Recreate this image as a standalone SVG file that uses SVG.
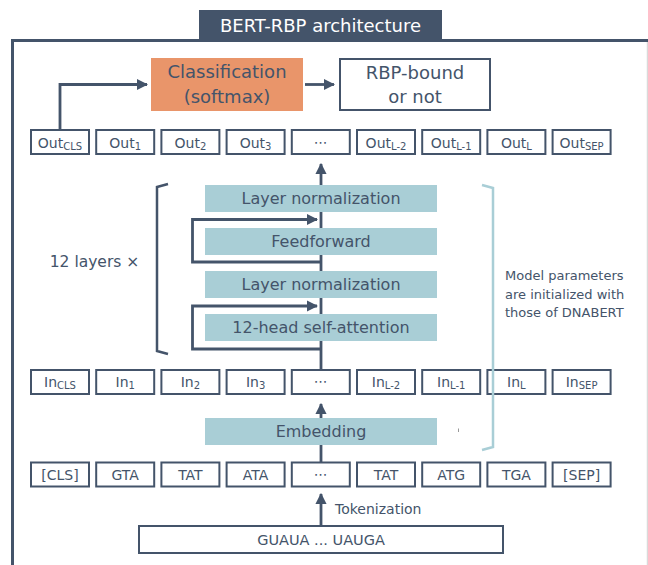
<svg xmlns="http://www.w3.org/2000/svg" width="648" height="565" viewBox="0 0 648 565">
<defs>
<style>
text{font-family:"DejaVu Sans","Liberation Sans",sans-serif;fill:#44546A}
.box{fill:#fff;stroke:#44546A;stroke-width:2}
.tl{fill:#A9CED6}
.bt{font-size:14px;text-anchor:middle}
.sub{font-size:10px}
.lt{font-size:16px;text-anchor:middle}
.ln{fill:none;stroke:#44546A;stroke-width:2.8}
.ah{fill:#44546A}
</style>
<marker id="arr" viewBox="0 0 10 10" refX="9" refY="5" markerWidth="4" markerHeight="4.4" orient="auto" markerUnits="strokeWidth">
<path d="M0,0 L10,5 L0,10 Z" class="ah"/>
</marker>
</defs>
<rect width="648" height="565" fill="#fff"/>
<g id="frame">
<path d="M12.5,570 V40.5 H648" fill="none" stroke="#44546A" stroke-width="3"/>
<line x1="647.5" y1="42" x2="647.5" y2="565" stroke="#DADADA" stroke-width="1.5"/>
</g>
<g id="title">
<rect x="199" y="10" width="243" height="30" fill="#44546A"/>
<text x="320.5" y="31.5" style="font-size:18px;text-anchor:middle;fill:#fff">BERT-RBP architecture</text>
</g>
<g id="connectors">
<line x1="321" y1="370" x2="321" y2="164" class="ln" marker-end="url(#arr)"/>
<path d="M321,262 H192.5 V219.5 H317" class="ln" stroke-width="2.5" marker-end="url(#arr)"/>
<path d="M321,349 H192.5 V306 H317" class="ln" stroke-width="2.5" marker-end="url(#arr)"/>
<line x1="321" y1="418" x2="321" y2="404" class="ln" marker-end="url(#arr)"/>
<line x1="321" y1="462" x2="321" y2="445" class="ln"/>
<line x1="321" y1="526" x2="321" y2="494" class="ln" marker-end="url(#arr)"/>
<path d="M60,130 V84.5 H147" class="ln" marker-end="url(#arr)"/>
<line x1="305" y1="84.5" x2="334" y2="84.5" class="ln" marker-end="url(#arr)"/>
</g>
<g id="classification">
<rect x="151" y="58" width="152" height="53" fill="#E9956A"/>
<text x="227" y="78" style="font-size:18px;text-anchor:middle">Classification</text>
<text x="227" y="103" style="font-size:18px;text-anchor:middle">(softmax)</text>
</g>
<g id="rbp-bound">
<rect x="340" y="59" width="150" height="51" class="box"/>
<text x="415" y="78.5" style="font-size:18px;text-anchor:middle">RBP-bound</text>
<text x="415" y="103" style="font-size:18px;text-anchor:middle">or not</text>
</g>
<g id="out-row">
<rect x="31" y="130" width="58" height="24" class="box"/><text x="60" y="147.5" class="bt">Out<tspan class="sub" dy="2.5">CLS</tspan></text>
<rect x="96.2" y="130" width="58" height="24" class="box"/><text x="125.2" y="147.5" class="bt">Out<tspan class="sub" dy="2.5">1</tspan></text>
<rect x="161.4" y="130" width="58" height="24" class="box"/><text x="190.4" y="147.5" class="bt">Out<tspan class="sub" dy="2.5">2</tspan></text>
<rect x="226.6" y="130" width="58" height="24" class="box"/><text x="255.6" y="147.5" class="bt">Out<tspan class="sub" dy="2.5">3</tspan></text>
<rect x="291.8" y="130" width="58" height="24" class="box"/><text x="320.8" y="147" class="bt">⋯</text>
<rect x="357" y="130" width="58" height="24" class="box"/><text x="386" y="147.5" class="bt">Out<tspan class="sub" dy="2.5">L-2</tspan></text>
<rect x="422.2" y="130" width="58" height="24" class="box"/><text x="451.2" y="147.5" class="bt">Out<tspan class="sub" dy="2.5">L-1</tspan></text>
<rect x="487.4" y="130" width="58" height="24" class="box"/><text x="516.4" y="147.5" class="bt">Out<tspan class="sub" dy="2.5">L</tspan></text>
<rect x="552.6" y="130" width="58" height="24" class="box"/><text x="581.6" y="147.5" class="bt">Out<tspan class="sub" dy="2.5">SEP</tspan></text>
</g>
<g id="layernorm-top">
<rect x="205" y="185" width="232" height="27" class="tl"/>
<text x="321" y="204" class="lt">Layer normalization</text>
</g>
<g id="feedforward">
<rect x="205" y="228" width="232" height="27" class="tl"/>
<text x="321" y="247" class="lt">Feedforward</text>
</g>
<g id="layernorm-bottom">
<rect x="205" y="271" width="232" height="27" class="tl"/>
<text x="321" y="290" class="lt">Layer normalization</text>
</g>
<g id="self-attention">
<rect x="205" y="314" width="232" height="27" class="tl"/>
<text x="321" y="333" class="lt">12-head self-attention</text>
</g>
<g id="layers-bracket">
<path d="M168,184 L157,187 V351 L168,354" fill="none" stroke="#44546A" stroke-width="2.5"/>
<text x="94.5" y="266.5" style="font-size:15.5px;text-anchor:middle">12 layers ×</text>
</g>
<g id="in-row">
<rect x="31" y="370" width="58" height="24" class="box"/><text x="60" y="386.5" class="bt">In<tspan class="sub" dy="2.5">CLS</tspan></text>
<rect x="96.2" y="370" width="58" height="24" class="box"/><text x="125.2" y="386.5" class="bt">In<tspan class="sub" dy="2.5">1</tspan></text>
<rect x="161.4" y="370" width="58" height="24" class="box"/><text x="190.4" y="386.5" class="bt">In<tspan class="sub" dy="2.5">2</tspan></text>
<rect x="226.6" y="370" width="58" height="24" class="box"/><text x="255.6" y="386.5" class="bt">In<tspan class="sub" dy="2.5">3</tspan></text>
<rect x="291.8" y="370" width="58" height="24" class="box"/><text x="320.8" y="386" class="bt">⋯</text>
<rect x="357" y="370" width="58" height="24" class="box"/><text x="386" y="386.5" class="bt">In<tspan class="sub" dy="2.5">L-2</tspan></text>
<rect x="422.2" y="370" width="58" height="24" class="box"/><text x="451.2" y="386.5" class="bt">In<tspan class="sub" dy="2.5">L-1</tspan></text>
<rect x="487.4" y="370" width="58" height="24" class="box"/><text x="516.4" y="386.5" class="bt">In<tspan class="sub" dy="2.5">L</tspan></text>
<rect x="552.6" y="370" width="58" height="24" class="box"/><text x="581.6" y="386.5" class="bt">In<tspan class="sub" dy="2.5">SEP</tspan></text>
</g>
<g id="dnabert-bracket">
<path d="M482,185 L493,188 V447 L482,450" fill="none" stroke="#A9CED6" stroke-width="2.5"/>
<text style="font-size:13px">
<tspan x="505" y="280">Model parameters</tspan>
<tspan x="505" y="298.5">are initialized with</tspan>
<tspan x="505" y="317">those of DNABERT</tspan>
</text>
</g>
<g id="embedding">
<rect x="205" y="418" width="232" height="27" class="tl"/>
<text x="321" y="437" class="lt">Embedding</text>
<line x1="458.5" y1="428.5" x2="458.5" y2="432" stroke="#999" stroke-width="1"/>
</g>
<g id="token-row">
<rect x="31" y="462.5" width="58" height="24" class="box"/><text x="60" y="479.5" class="bt">[CLS]</text>
<rect x="96.2" y="462.5" width="58" height="24" class="box"/><text x="125.2" y="479.5" class="bt">GTA</text>
<rect x="161.4" y="462.5" width="58" height="24" class="box"/><text x="190.4" y="479.5" class="bt">TAT</text>
<rect x="226.6" y="462.5" width="58" height="24" class="box"/><text x="255.6" y="479.5" class="bt">ATA</text>
<rect x="291.8" y="462.5" width="58" height="24" class="box"/><text x="320.8" y="479" class="bt">⋯</text>
<rect x="357" y="462.5" width="58" height="24" class="box"/><text x="386" y="479.5" class="bt">TAT</text>
<rect x="422.2" y="462.5" width="58" height="24" class="box"/><text x="451.2" y="479.5" class="bt">ATG</text>
<rect x="487.4" y="462.5" width="58" height="24" class="box"/><text x="516.4" y="479.5" class="bt">TGA</text>
<rect x="552.6" y="462.5" width="58" height="24" class="box"/><text x="581.6" y="479.5" class="bt">[SEP]</text>
</g>
<g id="tokenization">
<text x="335" y="513.5" style="font-size:14px">Tokenization</text>
</g>
<g id="sequence">
<rect x="139" y="526" width="364" height="27" class="box"/>
<text x="321" y="545" style="font-size:14.5px;text-anchor:middle">GUAUA ... UAUGA</text>
</g>
</svg>
